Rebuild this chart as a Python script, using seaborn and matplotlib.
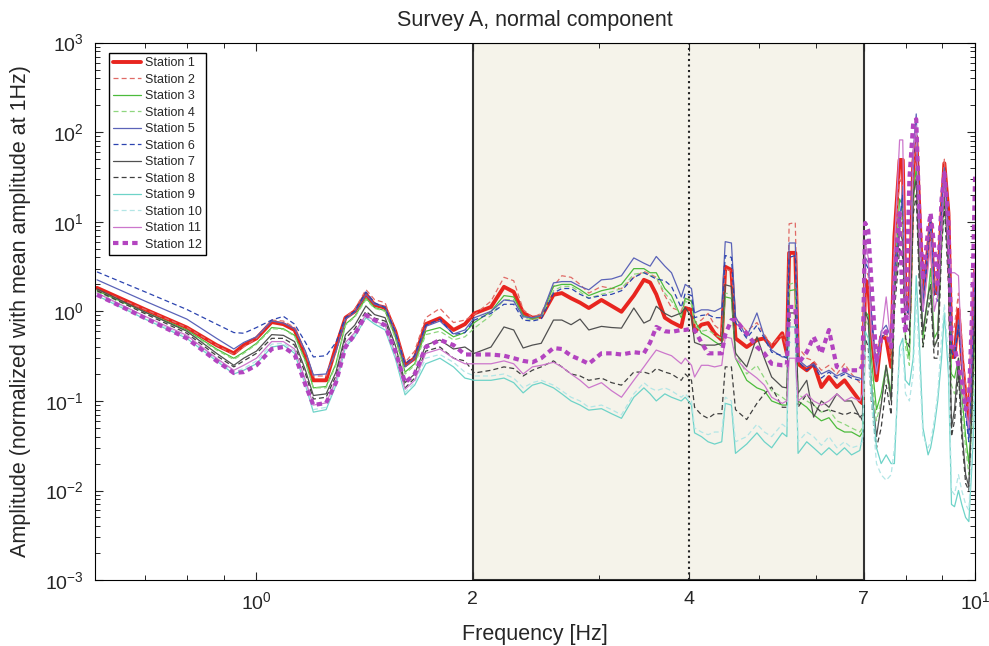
import numpy as np
import pandas as pd
import seaborn as sns
import matplotlib.pyplot as plt
from matplotlib.ticker import FixedLocator, LogLocator, NullFormatter

sns.set_style("ticks")
plt.rcParams["font.family"] = ["Liberation Sans", "DejaVu Sans"]
plt.rcParams["mathtext.default"] = "regular"

# frequency grid (Hz), split by band
F_LOW = [0.60, 0.70, 0.80, 0.88, 0.93, 0.96, 1.00, 1.05, 1.09, 1.13, 1.17, 1.20, 1.25,
         1.29, 1.33, 1.37, 1.42, 1.46, 1.51, 1.56, 1.61, 1.66, 1.72, 1.80, 1.88, 1.95]
F_MID = [2.01, 2.12, 2.21, 2.28, 2.35, 2.42, 2.49, 2.59, 2.66, 2.74, 2.82, 2.90,
         3.02, 3.12, 3.22, 3.35, 3.46, 3.53, 3.60, 3.70, 3.78, 3.90, 3.95, 4.03]
F_HIGH = [4.07, 4.16, 4.25, 4.34, 4.44, 4.49, 4.58, 4.64, 4.81, 4.97, 5.09, 5.21, 5.39,
          5.47, 5.51, 5.62, 5.67, 5.83, 5.96, 6.11, 6.26, 6.42, 6.58, 6.73, 6.91]
F_TOP = [6.97, 7.03, 7.10, 7.17, 7.29, 7.40, 7.52, 7.64, 7.72, 7.85, 7.93, 8.00, 8.10,
         8.20, 8.28, 8.36, 8.46, 8.60, 8.67, 8.77, 8.87, 8.98, 9.06, 9.18, 9.27, 9.36,
         9.48, 9.58, 9.70, 9.80, 9.90, 10.0]
freq = F_LOW + F_MID + F_HIGH + F_TOP

station_1 = [1.83, 1.05, 0.66, 0.42, 0.34, 0.42, 0.50, 0.76, 0.72, 0.62, 0.32, 0.17, 0.17,
             0.40, 0.85, 1.0, 1.56, 1.18, 1.10, 0.60, 0.25, 0.30, 0.72, 0.84, 0.62, 0.72,
             0.95, 1.12, 1.88, 1.65, 0.96, 0.85, 0.87, 1.53, 1.60, 1.40, 1.25, 1.09,
             1.34, 1.15, 0.99, 1.50, 2.25, 2.10, 1.55, 0.85, 0.76, 0.67, 1.09, 1.04,
             0.59, 0.71, 0.74, 0.57, 0.48, 3.15, 2.9, 0.50, 0.40, 0.48, 0.50, 0.40, 0.57,
             0.34, 4.5, 4.5, 0.26, 0.22, 0.26, 0.143, 0.185, 0.143, 0.17, 0.133, 0.10,
             0.094, 2.25, 2.0, 0.57, 0.17, 0.52, 0.50, 0.24, 6.8, 49, 49, 1.45, 0.96,
             45, 89, 14.7, 1.34, 5.2, 9.7, 1.6, 1.6, 12.5, 45, 12.5, 0.31, 0.31,
             1.04, 0.31, 0.11, 0.057, 0.40, 2.9]
station_2 = [1.75, 1.05, 0.66, 0.42, 0.33, 0.40, 0.50, 0.80, 0.78, 0.66, 0.34, 0.19, 0.19,
             0.35, 0.86, 1.05, 1.75, 1.35, 1.25, 0.62, 0.27, 0.36, 0.85, 1.08, 0.75, 0.80,
             0.92, 1.30, 2.40, 2.20, 1.05, 0.85, 0.95, 1.90, 2.50, 2.40, 2.00, 1.60,
             1.90, 1.80, 1.80, 2.40, 2.80, 2.60, 2.40, 1.50, 1.10, 1.0, 1.40, 1.30,
             0.75, 0.80, 0.95, 0.70, 0.60, 3.0, 2.8, 0.85, 0.60, 0.75, 0.55, 0.42, 0.55,
             0.40, 9.5, 9.8, 0.40, 0.30, 0.28, 0.22, 0.25, 0.20, 0.26, 0.20, 0.16,
             0.15, 3.0, 2.5, 0.8, 0.25, 0.45, 0.60, 0.30, 5.0, 30, 25, 1.8, 1.2,
             40, 80, 12, 1.5, 4.0, 8.0, 2.0, 2.0, 15, 50, 10, 0.5, 0.7,
             1.6, 0.5, 0.15, 0.08, 0.35, 2.5]
station_3 = [1.70, 0.98, 0.62, 0.38, 0.30, 0.35, 0.44, 0.66, 0.64, 0.54, 0.28, 0.14, 0.145,
             0.26, 0.72, 0.88, 1.40, 1.10, 1.02, 0.52, 0.21, 0.26, 0.60, 0.66, 0.52, 0.58,
             0.75, 1.00, 1.50, 1.45, 0.90, 0.82, 0.90, 1.90, 2.0, 2.0, 1.75, 1.50,
             1.70, 1.80, 2.00, 3.00, 3.00, 2.70, 2.70, 1.80, 1.50, 0.85, 1.40, 1.30,
             0.80, 0.57, 0.52, 0.46, 0.41, 1.45, 1.40, 0.30, 0.17, 0.14, 0.13, 0.10, 0.09,
             0.09, 1.70, 1.75, 0.10, 0.085, 0.07, 0.06, 0.065, 0.05, 0.045, 0.045, 0.04,
             0.045, 1.0, 0.9, 0.3, 0.08, 0.12, 0.25, 0.12, 2.0, 18, 15, 0.5, 0.3,
             20, 40, 5, 0.5, 1.5, 3.0, 0.5, 0.6, 6, 20, 5, 0.2, 0.18,
             0.3, 0.12, 0.04, 0.02, 0.08, 0.6]
station_4 = [1.65, 0.96, 0.60, 0.37, 0.29, 0.34, 0.43, 0.64, 0.63, 0.53, 0.27, 0.14, 0.14,
             0.25, 0.70, 0.86, 1.35, 1.08, 1.00, 0.50, 0.20, 0.25, 0.55, 0.60, 0.48, 0.52,
             0.65, 0.90, 1.35, 1.35, 0.85, 0.80, 0.85, 1.70, 1.90, 1.90, 1.65, 1.40,
             1.55, 1.65, 1.80, 2.60, 2.70, 2.50, 2.40, 1.60, 1.30, 0.90, 1.30, 1.20,
             0.70, 0.60, 0.62, 0.55, 0.50, 1.60, 1.55, 0.35, 0.20, 0.25, 0.18, 0.13, 0.11,
             0.10, 2.0, 2.1, 0.12, 0.10, 0.09, 0.075, 0.08, 0.06, 0.055, 0.05, 0.045,
             0.05, 0.8, 0.7, 0.2, 0.06, 0.1, 0.2, 0.1, 1.5, 12, 10, 0.4, 0.25,
             15, 30, 4, 0.4, 1.2, 2.5, 0.4, 0.5, 5, 15, 4, 0.15, 0.12,
             0.2, 0.08, 0.03, 0.015, 0.05, 0.4]
station_5 = [2.25, 1.30, 0.82, 0.50, 0.38, 0.45, 0.52, 0.78, 0.74, 0.64, 0.36, 0.195, 0.20,
             0.36, 0.82, 0.98, 1.55, 1.20, 1.12, 0.58, 0.24, 0.30, 0.68, 0.78, 0.56, 0.62,
             0.85, 1.00, 1.34, 1.30, 0.87, 0.85, 0.90, 2.08, 2.15, 2.15, 1.90, 1.74,
             2.25, 2.30, 2.50, 3.95, 3.45, 3.20, 4.10, 3.20, 2.70, 1.45, 2.00, 1.80,
             0.96, 1.04, 1.04, 1.00, 1.10, 6.0, 5.8, 0.87, 0.52, 0.96, 0.52, 0.37, 0.31,
             0.31, 5.8, 5.8, 0.29, 0.24, 0.26, 0.20, 0.22, 0.19, 0.21, 0.19, 0.18,
             0.17, 4.0, 3.5, 1.0, 0.22, 0.6, 0.7, 0.5, 3.0, 8, 25, 1.5, 0.9,
             60, 160, 10, 1.2, 6, 12, 1.8, 1.5, 15, 40, 8, 0.4, 0.35,
             0.8, 0.3, 0.08, 0.04, 0.3, 2.5]
station_6 = [2.76, 1.65, 1.05, 0.72, 0.58, 0.57, 0.66, 0.80, 0.88, 0.72, 0.45, 0.31, 0.32,
             0.45, 0.85, 1.0, 1.65, 1.25, 1.10, 0.60, 0.26, 0.32, 0.70, 0.82, 0.55, 0.58,
             0.80, 0.95, 1.20, 1.20, 0.80, 0.78, 0.82, 1.60, 1.80, 1.80, 1.55, 1.40,
             1.50, 1.55, 1.70, 2.40, 2.70, 2.50, 2.30, 2.20, 1.90, 1.10, 1.60, 1.50,
             0.85, 0.90, 0.92, 0.85, 0.85, 4.2, 4.0, 0.75, 0.50, 0.70, 0.50, 0.35, 0.32,
             0.30, 4.0, 4.2, 0.28, 0.22, 0.25, 0.18, 0.21, 0.18, 0.20, 0.18, 0.17,
             0.16, 3.5, 3.0, 0.9, 0.2, 0.5, 0.6, 0.4, 3.0, 10, 20, 1.2, 0.8,
             50, 120, 10, 1.0, 5, 10, 1.5, 1.3, 12, 35, 7, 0.35, 0.3,
             0.7, 0.25, 0.07, 0.035, 0.25, 2.0]
station_7 = [1.78, 0.98, 0.60, 0.34, 0.25, 0.30, 0.36, 0.55, 0.54, 0.46, 0.22, 0.115, 0.12,
             0.21, 0.55, 0.70, 1.15, 0.92, 0.85, 0.42, 0.16, 0.20, 0.42, 0.48, 0.38, 0.40,
             0.34, 0.40, 0.67, 0.62, 0.39, 0.42, 0.44, 0.80, 0.80, 0.71, 0.82, 0.62,
             0.68, 0.66, 0.65, 1.09, 0.74, 0.80, 1.14, 0.95, 0.87, 0.96, 1.10, 0.87,
             0.45, 0.42, 0.42, 0.42, 0.44, 1.98, 1.90, 0.34, 0.24, 0.52, 0.30, 0.185, 0.143,
             0.14, 0.96, 0.96, 0.122, 0.17, 0.066, 0.10, 0.085, 0.12, 0.10, 0.10, 0.066,
             0.07, 1.0, 0.8, 0.15, 0.04, 0.09, 0.25, 0.1, 1.5, 8, 6, 0.7, 0.6,
             20, 30, 3, 0.6, 1.5, 2, 0.4, 0.5, 8, 25, 3, 0.05, 0.08,
             0.3, 0.05, 0.015, 0.011, 0.1, 1.5]
station_8 = [1.70, 0.94, 0.57, 0.32, 0.24, 0.28, 0.34, 0.50, 0.50, 0.42, 0.20, 0.105, 0.11,
             0.19, 0.50, 0.64, 1.00, 0.84, 0.78, 0.38, 0.14, 0.18, 0.36, 0.40, 0.30, 0.28,
             0.205, 0.22, 0.24, 0.23, 0.19, 0.22, 0.24, 0.28, 0.24, 0.20, 0.19, 0.17,
             0.18, 0.16, 0.15, 0.21, 0.21, 0.20, 0.23, 0.21, 0.20, 0.17, 0.20, 0.17,
             0.085, 0.07, 0.064, 0.072, 0.072, 0.24, 0.24, 0.08, 0.062, 0.094, 0.12, 0.143, 0.085,
             0.085, 0.80, 0.80, 0.085, 0.12, 0.09, 0.075, 0.08, 0.075, 0.07, 0.075, 0.07,
             0.06, 0.5, 0.4, 0.1, 0.03, 0.05, 0.15, 0.07, 1.0, 5, 4, 0.5, 0.4,
             12, 20, 2, 0.4, 1.0, 1.5, 0.3, 0.3, 5, 15, 2, 0.04, 0.06,
             0.2, 0.04, 0.012, 0.01, 0.08, 1.0]
station_9 = [1.50, 0.82, 0.50, 0.28, 0.20, 0.22, 0.26, 0.40, 0.42, 0.34, 0.15, 0.075, 0.08,
             0.15, 0.40, 0.52, 0.85, 0.72, 0.62, 0.30, 0.117, 0.15, 0.26, 0.30, 0.24, 0.18,
             0.17, 0.17, 0.18, 0.16, 0.123, 0.15, 0.16, 0.14, 0.12, 0.10, 0.09, 0.079,
             0.082, 0.072, 0.064, 0.11, 0.14, 0.12, 0.10, 0.12, 0.11, 0.10, 0.11, 0.09,
             0.044, 0.040, 0.035, 0.033, 0.035, 0.094, 0.09, 0.026, 0.033, 0.044, 0.035, 0.03, 0.044,
             0.04, 0.67, 0.67, 0.026, 0.035, 0.03, 0.025, 0.03, 0.025, 0.03, 0.025, 0.028,
             0.04, 0.6, 0.5, 0.15, 0.03, 0.02, 0.025, 0.02, 0.02, 0.4, 0.5, 0.17, 0.15,
             0.3, 2.5, 0.5, 0.05, 0.025, 0.03, 0.05, 0.1, 0.3, 0.96, 0.2, 0.007, 0.0066,
             0.01, 0.007, 0.005, 0.0045, 0.02, 0.13]
station_10 = [1.55, 0.85, 0.52, 0.29, 0.21, 0.23, 0.28, 0.43, 0.44, 0.36, 0.16, 0.08, 0.085,
              0.16, 0.42, 0.55, 0.88, 0.75, 0.66, 0.32, 0.125, 0.16, 0.30, 0.33, 0.27, 0.21,
              0.19, 0.19, 0.20, 0.18, 0.14, 0.16, 0.17, 0.15, 0.13, 0.11, 0.10, 0.085,
              0.09, 0.08, 0.07, 0.12, 0.16, 0.14, 0.13, 0.14, 0.13, 0.11, 0.12, 0.10,
              0.05, 0.045, 0.042, 0.045, 0.045, 0.11, 0.10, 0.035, 0.04, 0.055, 0.045, 0.04, 0.055,
              0.05, 0.45, 0.45, 0.035, 0.045, 0.04, 0.032, 0.04, 0.03, 0.035, 0.03, 0.032,
              0.035, 0.35, 0.3, 0.1, 0.02, 0.015, 0.013, 0.015, 0.03, 0.3, 0.4, 0.12, 0.1,
              0.2, 1.5, 0.3, 0.04, 0.03, 0.035, 0.06, 0.12, 0.5, 1.2, 0.3, 0.01, 0.009,
              0.015, 0.01, 0.007, 0.006, 0.03, 0.2]
station_11 = [1.60, 0.88, 0.54, 0.30, 0.22, 0.25, 0.30, 0.46, 0.46, 0.38, 0.17, 0.09, 0.095,
              0.17, 0.45, 0.58, 0.92, 0.78, 0.70, 0.34, 0.135, 0.17, 0.34, 0.38, 0.30, 0.26,
              0.26, 0.26, 0.28, 0.26, 0.20, 0.24, 0.25, 0.27, 0.24, 0.20, 0.17, 0.14,
              0.16, 0.13, 0.11, 0.17, 0.24, 0.30, 0.37, 0.34, 0.32, 0.26, 0.30, 0.25,
              0.185, 0.25, 0.25, 0.24, 0.25, 0.52, 0.50, 0.30, 0.22, 0.18, 0.15, 0.11, 0.094,
              0.10, 0.30, 0.30, 0.10, 0.12, 0.10, 0.09, 0.10, 0.12, 0.10, 0.11, 0.10,
              0.12, 6.0, 4.0, 0.6, 0.2, 0.5, 1.45, 0.4, 5, 82, 82, 1.0, 0.8,
              60, 120, 8, 1.0, 3, 6, 1.0, 1.5, 8, 30, 5, 2.7, 2.7,
              2.5, 0.3, 0.08, 0.05, 1.5, 3.5]
station_12 = [1.53, 0.84, 0.50, 0.28, 0.205, 0.21, 0.25, 0.38, 0.40, 0.33, 0.15, 0.09, 0.095,
              0.16, 0.40, 0.55, 0.91, 0.80, 0.70, 0.36, 0.16, 0.20, 0.40, 0.48, 0.42, 0.33,
              0.33, 0.33, 0.32, 0.30, 0.28, 0.27, 0.30, 0.39, 0.38, 0.32, 0.29, 0.26,
              0.34, 0.34, 0.33, 0.35, 0.34, 0.45, 0.67, 0.60, 0.59, 0.62, 0.62, 0.64,
              0.62, 0.45, 0.34, 0.34, 0.34, 0.55, 0.80, 0.80, 0.57, 0.40, 0.34, 0.26, 0.25,
              0.25, 1.12, 1.12, 0.26, 0.35, 0.52, 0.34, 0.62, 0.24, 0.22, 0.22, 0.22,
              0.25, 9.7, 8.0, 2.25, 0.27, 0.5, 0.6, 0.4, 2.2, 12.5, 0.96, 0.57, 30,
              127, 140, 12.5, 2.25, 8.1, 12.5, 5.2, 2.0, 18, 35, 10.4, 0.4, 0.4,
              0.25, 0.17, 0.08, 0.1, 0.96, 35]

stations = [station_1, station_2, station_3, station_4, station_5, station_6,
            station_7, station_8, station_9, station_10, station_11, station_12]
labels = [f"Station {i}" for i in range(1, 13)]
colors = ["#e8251f", "#e06a66", "#4cbb3c", "#8fd67f", "#5b63b8", "#2c44b0",
          "#505050", "#404040", "#6ed3c8", "#b3e6e6", "#cc77cc", "#b344c0"]
styles = ["-", (0, (4, 2.5)), "-", (0, (4, 2.5)), "-", (0, (4, 2.5)),
          "-", (0, (4, 2.5)), "-", (0, (4, 2.5)), "-", (0, (1.3, 1.0))]
widths = [2.8, 0.9, 0.9, 0.9, 0.9, 0.9, 0.9, 0.9, 0.9, 0.9, 0.9, 3.0]

fig = plt.figure(figsize=(9.89, 6.46), dpi=100)
ax = fig.add_axes([0.096, 0.102, 0.890, 0.832])

# analysis windows
ax.axvspan(2, 7, facecolor="#f5f3ea", edgecolor="#333333", linewidth=1.5, zorder=0)
ax.axvline(4, color="#222222", linestyle=":", linewidth=1.5, zorder=0.5)

for vals, lab, c, ls, lw in zip(stations, labels, colors, styles, widths):
    assert len(vals) == len(freq)
    df = pd.DataFrame({"freq": freq, "amp": vals})
    sns.lineplot(data=df, x="freq", y="amp", ax=ax, color=c, linestyle=ls,
                 linewidth=lw, label=lab, estimator=None, sort=False)

ax.set_xscale("log")
ax.set_yscale("log")
ax.set_xlim(0.596, 10)
ax.set_ylim(1e-3, 1e3)

ax.xaxis.set_major_locator(FixedLocator([1, 2, 4, 7, 10]))
ax.set_xticklabels(["$10^{0}$", "2", "4", "7", "$10^{1}$"])
ax.xaxis.set_minor_locator(FixedLocator([0.7, 0.8, 0.9, 3, 5, 6, 8, 9]))
ax.xaxis.set_minor_formatter(NullFormatter())
ax.yaxis.set_major_locator(LogLocator(base=10, numticks=10))
ax.yaxis.set_minor_locator(LogLocator(base=10, subs=np.arange(2, 10), numticks=20))
ax.yaxis.set_minor_formatter(NullFormatter())

ax.tick_params(which="both", direction="in", top=True, right=True, labelsize=14)
ax.tick_params(which="major", length=6, width=0.8, pad=8)
ax.tick_params(which="minor", length=3.5, width=0.7)
for s in ax.spines.values():
    s.set_linewidth(0.8)
    s.set_color("black")

ax.set_title("Survey A, normal component", fontsize=15.5, pad=12)
ax.set_xlabel("Frequency [Hz]", fontsize=15.5, labelpad=8)
ax.set_ylabel("Amplitude (normalized with mean amplitude at 1Hz)", fontsize=15.5, labelpad=10)

leg = ax.legend(loc="upper left", bbox_to_anchor=(0.016, 0.981), fontsize=9,
                frameon=True, fancybox=False, framealpha=1, edgecolor="black",
                borderpad=0.35, labelspacing=0.36, handlelength=2.2, handletextpad=0.3,
                borderaxespad=0)
leg.get_frame().set_linewidth(1.0)

fig.savefig("out.png", dpi=100)
